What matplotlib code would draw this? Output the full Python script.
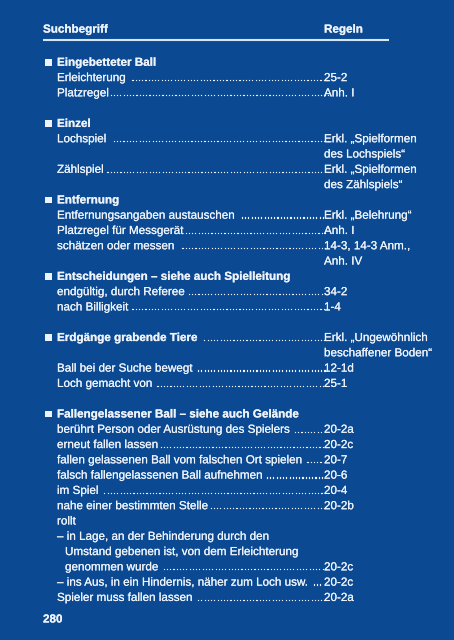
import matplotlib
matplotlib.use("Agg")
import matplotlib.pyplot as plt
from matplotlib.patches import Rectangle
import matplotlib.patheffects as pe

# ---- content ----
header_left = "Suchbegriff"
header_right = "Regeln"
page_number = "280"

# kind: H = heading (bold, bullet), S = sub entry, C = continuation of ref, B = blank, I = indented sub
kinds = ["H", "S", "S", "B", "H", "S", "C", "S", "C", "H", "S", "S", "S", "C",
         "H", "S", "S", "B", "H", "C", "S", "S", "B", "H", "S", "S", "S", "S",
         "S", "S", "S", "S", "I", "I", "S", "S"]
terms = ["Eingebetteter Ball", "Erleichterung ", "Platzregel", "", "Einzel",
         "Lochspiel ", "", "Zählspiel", "", "Entfernung",
         "Entfernungsangaben austauschen ", "Platzregel für Messgerät",
         "schätzen oder messen  ", "", "Entscheidungen – siehe auch Spielleitung",
         "endgültig, durch Referee", "nach Billigkeit", "",
         "Erdgänge grabende Tiere ", "", "Ball bei der Suche bewegt ",
         "Loch gemacht von ", "", "Fallengelassener Ball – siehe auch Gelände",
         "berührt Person oder Ausrüstung des Spielers ", "erneut fallen lassen",
         "fallen gelassenen Ball vom falschen Ort spielen ",
         "falsch fallengelassenen Ball aufnehmen", "im Spiel ",
         "nahe einer bestimmten Stelle", "rollt",
         "– in Lage, an der Behinderung durch den",
         "Umstand gebenen ist, von dem Erleichterung", "genommen wurde ",
         "– ins Aus, in ein Hindernis, näher zum Loch usw. ",
         "Spieler muss fallen lassen "]
refs = ["", "25-2", "Anh. I", "", "", "Erkl. „Spielformen", "des Lochspiels“",
        "Erkl. „Spielformen", "des Zählspiels“", "", "Erkl. „Belehrung“", "Anh. I",
        "14-3, 14-3 Anm.,", "Anh. IV", "", "34-2", "1-4", "",
        "Erkl. „Ungewöhnlich", "beschaffener Boden“", "12-1d", "25-1", "", "",
        "20-2a", "20-2c", "20-7", "20-6", "20-4", "20-2b", "", "", "", "20-2c",
        "20-2c", "20-2a"]

# ---- style ----
BG = "#0b4a92"
FG = "#eef3fb"
FONT = ["Liberation Sans", "DejaVu Sans"]
FS = 8.4
W, H = 454, 640
THICK = [pe.withStroke(linewidth=0.12, foreground=FG)]

fig = plt.figure(figsize=(W / 100, H / 100), dpi=100)
fig.patch.set_facecolor(BG)
ax = fig.add_axes([0, 0, 1, 1])
ax.set_xlim(0, W)
ax.set_ylim(H, 0)
ax.axis("off")
ax.set_facecolor(BG)

x_bullet = 45
x_text = 57
x_indent = 65
x_ref = 324
x_dot_end = 322
y0 = 65.8
dy = 15.29


def put(x, y, s, bold=False, ha="left"):
    return ax.text(x, y, s, fontsize=FS, color=FG, family=FONT, va="baseline",
                   ha=ha, fontweight="bold" if bold else "normal",
                   path_effects=THICK)


# header
put(43, 32.6, header_left, bold=True)
put(x_ref, 32.6, header_right, bold=True)
ax.plot([43, 389], [39.6, 39.6], color="#d6e6f8", lw=1.5, solid_capstyle="butt")

fig.canvas.draw()
renderer = fig.canvas.get_renderer()

dot_probe = ax.text(0, -100, "." * 20, fontsize=FS, family=FONT)
dot_w = dot_probe.get_window_extent(renderer).width / 20
dot_probe.remove()

for i, (k, t, r) in enumerate(zip(kinds, terms, refs)):
    y = y0 + i * dy
    if k == "B":
        continue
    if k == "H":
        ax.add_patch(Rectangle((x_bullet, y - 6.6), 6.6, 6.6, color=FG, lw=0))
    x = x_indent if k == "I" else x_text
    if t:
        txt = put(x, y, t, bold=(k == "H"))
        if r:
            ext = txt.get_window_extent(renderer)
            n = int((x_dot_end - ext.x1) / dot_w)
            if n > 0:
                put(x_dot_end, y, "." * n, ha="right")
    if r:
        put(x_ref, y, r)

put(43, 622.5, page_number, bold=True)

fig.savefig("out.png", dpi=100, facecolor=BG)
